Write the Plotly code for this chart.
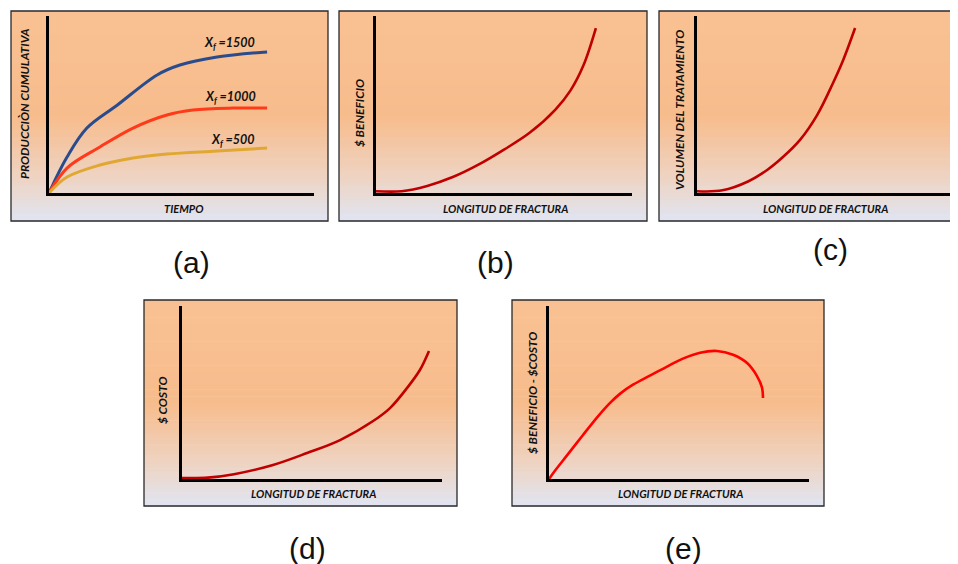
import plotly.graph_objects as go

OFF = 8  # page body margin compensation
W, H = 958 - OFF, 564 - OFF

# ---------------- data ----------------
# (a) cumulative production vs time
time_blue = [0, 0.68, 1.43, 2.57, 4.08, 4.94, 6.34, 8.23]
prod_1500 = [0, 20.3, 36.7, 49.6, 66.7, 72.3, 76.8, 79.7]
time_red = [0, 0.68, 1.92, 3.17, 4.45, 5.43, 6.94, 8.23]
prod_1000 = [0, 14.1, 26.0, 36.7, 44.1, 46.9, 48.0, 48.0]
time_yel = [0, 0.68, 1.92, 3.17, 4.45, 6.34, 8.23]
prod_500 = [0, 9.0, 15.8, 19.8, 22.0, 23.7, 25.4]
xf_labels = ["X<sub>f</sub> =1500", "X<sub>f</sub> =1000", "X<sub>f</sub> =500"]
xf_label_x = [7.85, 7.89, 7.85]
xf_label_y = [84.7, 53.7, 29.4]

# (b) benefit vs fracture length
len_b = [0, 1, 2, 3, 4, 5, 6, 7, 7.6, 8.1, 8.59]
benefit = [1, 1, 4, 9, 16, 24.5, 34, 47, 58, 72, 93.2]

# (c) treatment volume vs fracture length
len_c = [0, 1, 2, 2.75, 3.37, 4.04, 4.71, 5.33, 5.73, 6.20]
volume = [1, 1.5, 6.5, 13, 20.3, 30, 44, 62, 75, 93.2]

# (d) cost vs fracture length
len_d = [0, 1, 2, 3.5, 4.81, 6.08, 7.35, 8.00, 8.65, 9.15, 9.50]
cost = [0.6, 0.8, 2.8, 8.1, 15.0, 22.5, 33.5, 41.0, 52.5, 63.0, 74.0]

# (e) benefit - cost vs fracture length
len_e = [0, 0.25, 0.7, 1.3, 1.9, 2.35, 2.75, 3.23, 3.88, 4.54, 5.15, 5.81, 6.46,
         7.08, 7.62, 8.00, 8.19, 8.23]
net = [0, 5.2, 13.8, 25.3, 36.5, 44, 49.5, 54.5, 59.8, 65, 69.6, 73, 74,
       71.8, 67, 59.5, 53, 46.8]

x_titles = ["TIEMPO", "LONGITUD DE FRACTURA", "LONGITUD DE FRACTURA",
            "LONGITUD DE FRACTURA", "LONGITUD DE FRACTURA"]
y_titles = ["PRODUCCIÒN CUMULATIVA", "$ BENEFICIO", "VOLUMEN DEL TRATAMIENTO",
            "$ COSTO", "$ BENEFICIO - $COSTO"]
panel_tags = ["(a)", "(b)", "(c)", "(d)", "(e)"]

# ---------------- layout geometry (page pixels) ----------------
axes_px = [(49, 314, 16, 193), (376, 632, 16, 193), (697, 952, 16, 193),
           (182, 442, 306, 479), (549, 809, 306, 479)]
frames_px = [(11, 328, 11, 221), (339, 647, 11, 221), (659, 970, 11, 221),
             (144, 457, 300, 506), (512, 824, 300, 506)]
xtitle_pos = [(183, 208), (505, 208), (825, 208), (313, 493), (680, 493)]
ytitle_pos = [(24, 104), (360, 113), (680, 110), (163, 400), (532, 393)]
tag_pos = [(191, 262), (495, 262), (830, 250), (307, 548), (683, 548)]


def px(x):
    return (x - OFF) / W


def py(y):
    return 1 - (y - OFF) / H


fig = go.Figure()

LW = 2.6
series = [
    (1, time_blue, prod_1500, "#2B4C8C", 3),
    (1, time_red, prod_1000, "#FF3A1A", 3),
    (1, time_yel, prod_500, "#E0A832", 3),
    (2, len_b, benefit, "#C00000", LW),
    (3, len_c, volume, "#C00000", LW),
    (4, len_d, cost, "#C00000", LW),
    (5, len_e, net, "#FF0000", LW),
]
for idx, xs, ys, col, w in series:
    suf = "" if idx == 1 else str(idx)
    fig.add_trace(go.Scatter(
        x=xs, y=ys, mode="lines",
        line=dict(color=col, width=w, shape="spline", smoothing=1.0),
        xaxis="x" + suf, yaxis="y" + suf, showlegend=False, hoverinfo="skip",
        cliponaxis=False))

layout = {}
for i, (xl, xr, yt, yb) in enumerate(axes_px):
    suf = "" if i == 0 else str(i + 1)
    layout["xaxis" + suf] = dict(
        domain=[px(xl), px(xr)], range=[0, 10], showline=True, linecolor="black",
        linewidth=3, showgrid=False, zeroline=False, showticklabels=False, ticks="",
        anchor="y" + suf, fixedrange=True)
    layout["yaxis" + suf] = dict(
        domain=[py(yb), py(yt)], range=[0, 100], showline=True, linecolor="black",
        linewidth=3, showgrid=False, zeroline=False, showticklabels=False, ticks="",
        anchor="x" + suf, fixedrange=True)
fig.update_layout(**layout)

# ---------------- backgrounds (vertical gradient) ----------------
top_c = (249, 193, 147)
mid_c = (247, 188, 140)
low_c = (238, 212, 196)
bot_c = (224, 229, 242)


def lerp(a, b, t):
    return tuple(round(a[k] + (b[k] - a[k]) * t) for k in range(3))


def color_at(f):
    if f < 0.5:
        return lerp(top_c, mid_c, f / 0.5)
    if f < 0.8:
        return lerp(mid_c, low_c, (f - 0.5) / 0.3)
    return lerp(low_c, bot_c, (f - 0.8) / 0.2)


shapes = []
NB = 60
for (x0, x1, y0, y1) in frames_px:
    h = y1 - y0
    x1c = min(x1, OFF + W)
    for b in range(NB):
        f0 = b / NB
        f1 = (b + 1) / NB
        c = color_at((f0 + f1) / 2)
        shapes.append(dict(
            type="rect", xref="paper", yref="paper", layer="below",
            x0=px(x0), x1=px(x1c), y0=py(y0 + f0 * h), y1=py(y0 + f1 * h + 0.6),
            line=dict(width=0), fillcolor="rgb(%d,%d,%d)" % c))
    shapes.append(dict(
        type="rect", xref="paper", yref="paper", layer="below",
        x0=px(x0), x1=px(x1), y0=py(y1), y1=py(y0),
        line=dict(color="#2a2a2a", width=1.3), fillcolor="rgba(0,0,0,0)"))
fig.update_layout(shapes=shapes)

# ---------------- text ----------------
ann = []
xlab_font = dict(family="Lato, 'Open Sans', sans-serif", size=11, color="#111111",
                 weight="bold", style="italic")
ylab_font = dict(family="Lato, 'Open Sans', sans-serif", size=12, color="#111111",
                 weight="bold", style="italic")
for (x, y), t in zip(xtitle_pos, x_titles):
    ann.append(dict(x=px(x), y=py(y), xref="paper", yref="paper", text=t,
                    showarrow=False, font=xlab_font, xanchor="center", yanchor="middle"))
for (x, y), t in zip(ytitle_pos, y_titles):
    ann.append(dict(x=px(x), y=py(y), xref="paper", yref="paper", text=t,
                    showarrow=False, font=ylab_font, textangle=-90,
                    xanchor="center", yanchor="middle"))
for t, xv, yv in zip(xf_labels, xf_label_x, xf_label_y):
    ann.append(dict(x=xv, y=yv, xref="x", yref="y", text=t, showarrow=False,
                    xanchor="right", yanchor="middle",
                    font=dict(family="Lato, sans-serif", size=12.5, color="#111111",
                              weight="bold", style="italic")))
for (x, y), t in zip(tag_pos, panel_tags):
    ann.append(dict(x=px(x), y=py(y), xref="paper", yref="paper", text=t,
                    showarrow=False, xanchor="center", yanchor="middle",
                    font=dict(family="'Liberation Sans', Arial, sans-serif", size=30,
                              color="#111111")))
fig.update_layout(annotations=ann)

fig.update_layout(
    width=W, height=H, margin=dict(l=0, r=0, t=0, b=0),
    paper_bgcolor="white", plot_bgcolor="rgba(0,0,0,0)", showlegend=False)

fig.write_html("out.html", config={"displayModeBar": False})
